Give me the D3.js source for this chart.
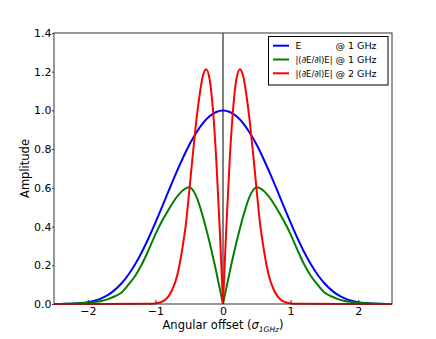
<!DOCTYPE html>
<html>
<head>
<meta charset="utf-8">
<script src="https://cdn.jsdelivr.net/npm/d3@7"></script>
<style>
  body { margin: 0; background: #fff; }
  text { font-family: "DejaVu Sans", sans-serif; fill: #000; }
</style>
</head>
<body>
<div class="chart"></div>
<script>
// sample offsets and amplitudes
var offsets = [-2.5,-2.4,-2.3,-2.2,-2.1,-2.0,-1.9,-1.8,-1.7,-1.6,-1.5,-1.4,-1.3,-1.2,-1.1,-1.0,-0.9,-0.8,-0.7,-0.6,-0.5,-0.4,-0.3,-0.2,-0.1,0,
  0.1,0.2,0.3,0.4,0.5,0.6,0.7,0.8,0.9,1.0,1.1,1.2,1.3,1.4,1.5,1.6,1.7,1.8,1.9,2.0,2.1,2.2,2.3,2.4,2.5];

var eField = [0.0002,0.0004,0.001,0.0023,0.0048,0.0093,0.017,0.029,0.047,0.073,0.107,0.151,0.205,0.269,0.341,0.420,0.503,0.588,0.671,0.749,0.821,0.882,0.933,0.970,0.992,1.0,
  0.992,0.970,0.933,0.882,0.821,0.749,0.671,0.588,0.503,0.420,0.341,0.269,0.205,0.151,0.107,0.073,0.047,0.029,0.017,0.0093,0.0048,0.0023,0.001,0.0004,0.0002];

var deriv1 = [0,0.0005,0.001,0.002,0.004,0.006,0.010,0.015,0.025,0.040,0.060,0.100,0.145,0.205,0.280,0.360,0.430,0.490,0.545,0.585,0.603,0.560,0.455,0.320,0.167,0,
  0.167,0.320,0.455,0.560,0.603,0.585,0.545,0.490,0.430,0.360,0.280,0.205,0.145,0.100,0.060,0.040,0.025,0.015,0.010,0.006,0.004,0.002,0.001,0.0005,0];

var offsets2 = [-2.5,-1.1,-1.0,-0.95,-0.9,-0.85,-0.8,-0.75,-0.7,-0.65,-0.6,-0.55,-0.5,-0.45,-0.4,-0.35,-0.3,-0.25,-0.2,-0.15,-0.1,-0.05,0,
  0.05,0.1,0.15,0.2,0.25,0.3,0.35,0.4,0.45,0.5,0.55,0.6,0.65,0.7,0.75,0.8,0.85,0.9,0.95,1.0,1.1,2.5];

var deriv2 = [0,0.001,0.003,0.006,0.012,0.023,0.043,0.075,0.120,0.190,0.290,0.410,0.580,0.760,0.930,1.070,1.175,1.213,1.165,1.010,0.750,0.400,0,
  0.400,0.750,1.010,1.165,1.213,1.175,1.070,0.930,0.760,0.580,0.410,0.290,0.190,0.120,0.075,0.043,0.023,0.012,0.006,0.003,0.001,0];

var xTicks = [-2, -1, 0, 1, 2];
var yTicks = [0.0, 0.2, 0.4, 0.6, 0.8, 1.0, 1.2, 1.4];

var seriesNames = ["E", "|(\u2202E/\u2202l)E|", "|(\u2202E/\u2202l)E|"];
var seriesFreq = ["@ 1 GHz", "@ 1 GHz", "@ 2 GHz"];
var seriesColors = ["#0000ff", "#008000", "#ff0000"];

const margin = {top: 33, right: 44, bottom: 35, left: 54};
const width = 436 - margin.left - margin.right,
      height = 339 - margin.top - margin.bottom;

const xScale = d3.scaleLinear().domain([-2.5, 2.5]).range([0, width]);
const yScale = d3.scaleLinear().domain([0, 1.4]).range([height, 0]);

var svg = d3.select(".chart")
  .append("svg")
  .attr("width", 436)
  .attr("height", 339)
  .append("g")
  .attr("transform", "translate(" + margin.left + "," + margin.top + ")");

// centre marker
svg.append("line")
  .attr("x1", xScale(0)).attr("x2", xScale(0))
  .attr("y1", 0).attr("y2", height)
  .attr("stroke", "#000").attr("stroke-width", 1);

var line = d3.line()
  .x(d => xScale(d[0]))
  .y(d => yScale(d[1]))
  .curve(d3.curveMonotoneX);

var series = [
  {xs: offsets, ys: eField, split: false},
  {xs: offsets, ys: deriv1, split: true},
  {xs: offsets2, ys: deriv2, split: true}
];

series.forEach((s, k) => {
  var pts = s.xs.map((x, i) => [x, s.ys[i]]);
  // the |derivative| curves have a sharp notch at zero, so draw each side on its own
  var parts = s.split
    ? [pts.filter(p => p[0] <= 0), pts.filter(p => p[0] >= 0)]
    : [pts];
  parts.forEach(part => {
    svg.append("path")
      .datum(part)
      .attr("d", line)
      .attr("fill", "none")
      .attr("stroke", seriesColors[k])
      .attr("stroke-width", 2)
      .attr("stroke-linejoin", "round");
  });
});

// frame
svg.append("rect")
  .attr("width", width).attr("height", height)
  .attr("fill", "none").attr("stroke", "#333").attr("stroke-width", 1);

var xAxis = d3.axisBottom(xScale)
  .tickValues(xTicks)
  .tickSizeInner(-4).tickSizeOuter(0)
  .tickPadding(3)
  .tickFormat(d => d < 0 ? "\u2212" + Math.abs(d) : d);

var yAxis = d3.axisLeft(yScale)
  .tickValues(yTicks)
  .tickSizeInner(2).tickSizeOuter(0)
  .tickPadding(0.5)
  .tickFormat(d3.format(".1f"));

svg.append("g")
  .attr("transform", `translate(0, ${height})`)
  .call(xAxis)
  .call(g => g.select(".domain").remove())
  .call(g => g.selectAll("line").attr("stroke", "#333"))
  .selectAll("text").attr("font-size", 11).attr("font-family", "DejaVu Sans");

svg.append("g")
  .call(yAxis)
  .call(g => g.select(".domain").remove())
  .call(g => g.selectAll("line").attr("stroke", "#333"))
  .selectAll("text").attr("font-size", 11).attr("font-family", "DejaVu Sans");

// axis labels
var xLabel = svg.append("text")
  .attr("x", width / 2)
  .attr("y", height + 25)
  .attr("text-anchor", "middle")
  .attr("font-size", 11.5);
xLabel.append("tspan").text("Angular offset (");
xLabel.append("tspan").text("\u03C3").attr("font-style", "italic");
xLabel.append("tspan").text("1GHz").attr("font-style", "italic").attr("font-size", 7.5).attr("dy", 2.5);
xLabel.append("tspan").text(")").attr("dy", -2.5);

svg.append("text")
  .text("Amplitude")
  .attr("transform", "translate(" + (-25.5) + "," + (height / 2) + ") rotate(-90)")
  .attr("text-anchor", "middle")
  .attr("font-size", 11.5);

// legend
var legend = svg.append("g")
  .attr("transform", "translate(" + (268.5 - margin.left) + "," + (36.5 - margin.top) + ")");

legend.append("rect")
  .attr("width", 119.5).attr("height", 48.5)
  .attr("fill", "#fff").attr("stroke", "#000").attr("stroke-width", 1);

legend.selectAll("line.key")
  .data(seriesNames)
  .enter()
  .append("line")
  .attr("class", "key")
  .attr("x1", 4.5).attr("x2", 20.5)
  .attr("y1", (d, i) => 9.2 + i * 13.8)
  .attr("y2", (d, i) => 9.2 + i * 13.8)
  .attr("stroke", (d, i) => seriesColors[i])
  .attr("stroke-width", 2);

legend.selectAll("text.name")
  .data(seriesNames)
  .enter()
  .append("text")
  .attr("class", "name")
  .text(d => d)
  .attr("x", 27)
  .attr("y", (d, i) => 9.2 + i * 13.8)
  .attr("dy", "0.35em")
  .attr("font-size", 9.5)
  .attr("textLength", (d, i) => i == 0 ? null : 37)
  .attr("lengthAdjust", "spacingAndGlyphs");

legend.selectAll("text.freq")
  .data(seriesFreq)
  .enter()
  .append("text")
  .attr("class", "freq")
  .text(d => d)
  .attr("x", 67)
  .attr("y", (d, i) => 9.2 + i * 13.8)
  .attr("dy", "0.35em")
  .attr("font-size", 9.5);
</script>
</body>
</html>
